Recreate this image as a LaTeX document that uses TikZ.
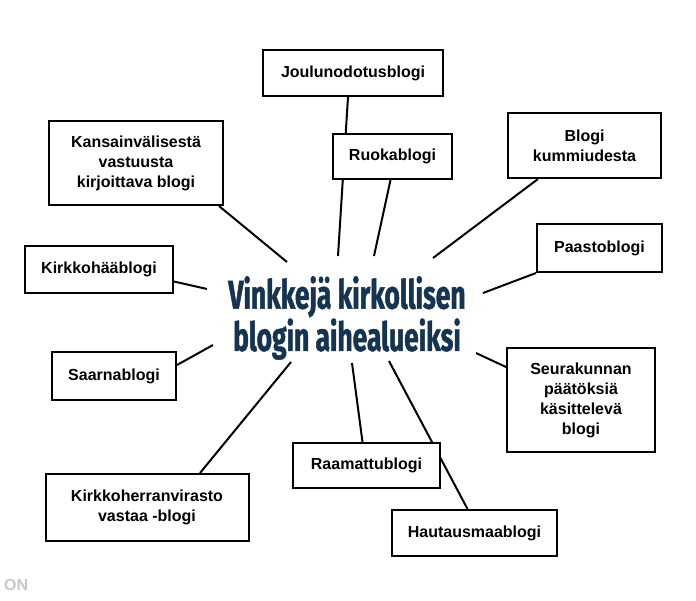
\documentclass[tikz,border=0pt]{standalone}
\usepackage{fontspec}
\setmainfont{Liberation Sans}
\newfontfamily\otsikkofontti{Fira Sans}[FakeStretch=0.66,FakeBold=1.2]
\usetikzlibrary{backgrounds,calc}
\definecolor{tummansininen}{RGB}{22,52,80}
\tikzset{
  laatikko/.style={draw=black,line width=2pt,fill=white,align=center,inner sep=0pt,
    font=\bfseries\fontsize{16}{20}\selectfont},
  viiva/.style={black,line width=2pt},
}

\begin{document}
\begin{tikzpicture}[x=1pt,y=-1pt]
\useasboundingbox (0,0) rectangle (696,600);
%Otsikko keskelle
\node[text=tummansininen,align=center,inner sep=0pt,
  font=\otsikkofontti\bfseries\fontsize{40}{39}\selectfont] (otsikko) at (347,318) {Vinkkejä kirkollisen\\blogin aihealueiksi};
%Laatikot, kohdat pikseleinä kuvasta
\node[laatikko,minimum width=180pt,minimum height=46pt] (joulu) at (353,73) {Joulunodotusblogi};
\node[laatikko,minimum width=119pt,minimum height=45pt] (ruoka) at (392.5,156.5) {Ruokablogi};
\node[laatikko,minimum width=174pt,minimum height=84pt] (kansa) at (136,163) {Kansainvälisestä\\vastuusta\\kirjoittava blogi};
\node[laatikko,minimum width=153pt,minimum height=65pt] (kummi) at (584.5,145.5) {Blogi\\kummiudesta};
\node[laatikko,minimum width=125pt,minimum height=48pt] (paasto) at (599.5,248) {Paastoblogi};
\node[laatikko,minimum width=148pt,minimum height=47pt] (haat) at (99,269.5) {Kirkkohääblogi};
\node[laatikko,minimum width=124pt,minimum height=48pt] (saarna) at (114,376) {Saarnablogi};
\node[laatikko,minimum width=148pt,minimum height=104pt] (seura) at (581,400) {Seurakunnan\\päätöksiä\\käsittelevä\\blogi};
\node[laatikko,minimum width=147pt,minimum height=45pt] (raamattu) at (366.5,465.5) {Raamattublogi};
\node[laatikko,minimum width=203pt,minimum height=67pt] (virasto) at (147,507.5) {Kirkkoherranvirasto\\vastaa -blogi};
\node[laatikko,minimum width=165pt,minimum height=46pt] (hautaus) at (474.5,533) {Hautausmaablogi};
\node[text=black!22,anchor=west,inner sep=0pt,font=\bfseries\fontsize{16}{16}\selectfont] (on) at (4,585) {ON};
%Viivojen päät otsikon ympärillä
\coordinate (pJoulu) at (338,256);
\coordinate (pRuoka) at (374,256);
\coordinate (pKansa) at (287,262);
\coordinate (pKummi) at (433,258);
\coordinate (pPaasto) at (483,293);
\coordinate (pHaat) at (207,289);
\coordinate (pSaarna) at (213,345);
\coordinate (pSeura) at (476,353);
\coordinate (pRaamattu) at (352,363);
\coordinate (pVirasto) at (291,362);
\coordinate (pHautaus) at (389,361);
\begin{pgfonlayer}{background}
\fill[white] (0,0) rectangle (696,600);
\draw[viiva] ([xshift=-5pt]joulu.south) -- (pJoulu);
\draw[viiva] ([xshift=-2pt]ruoka.south) -- (pRuoka);
\draw[viiva] ([xshift=-5pt]kansa.south east) -- (pKansa);
\draw[viiva] ([xshift=31pt]kummi.south west) -- (pKummi);
\draw[viiva] (paasto.south west) -- (pPaasto);
\draw[viiva] ([yshift=-12pt]haat.east) -- (pHaat);
\draw[viiva] ([yshift=11pt]saarna.east) -- (pSaarna);
\draw[viiva] ([yshift=33pt]seura.west) -- (pSeura);
\draw[viiva] ([xshift=-4pt]raamattu.north) -- (pRaamattu);
\draw[viiva] ([xshift=53pt]virasto.north) -- (pVirasto);
\draw[viiva] ([xshift=-7pt]hautaus.north) -- (pHautaus);
\end{pgfonlayer}
\end{tikzpicture}
\end{document}
